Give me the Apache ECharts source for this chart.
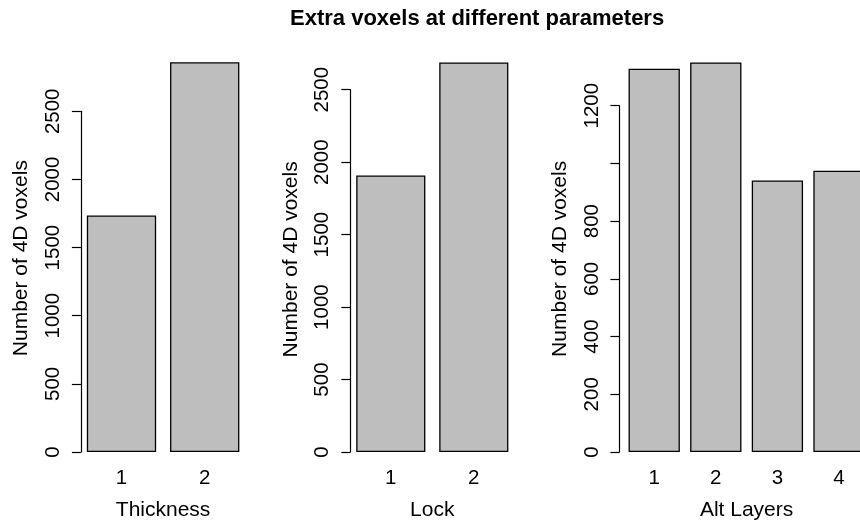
<!DOCTYPE html>
<html><head><meta charset="utf-8">
<script src="https://cdn.jsdelivr.net/npm/echarts@6/dist/echarts.min.js"></script>
<style>html,body{margin:0;padding:0;background:#fff}#c{width:860px;height:521px}</style>
</head><body><div id="c"></div>
<script>
const chartTitle = 'Extra voxels at different parameters';
const yAxisTitle = 'Number of 4D voxels';
const panelNames = ['Thickness', 'Lock', 'Alt Layers'];

const thicknessCats = ['1', '2'];
const thicknessValues = [1735, 2860];
const thicknessTicks = ['0', '500', '1000', '1500', '2000', '2500'];

const lockCats = ['1', '2'];
const lockValues = [1908, 2688];
const lockTicks = ['0', '500', '1000', '1500', '2000', '2500'];

const altLayersCats = ['1', '2', '3', '4'];
const altLayersValues = [1328, 1350, 941, 975];
const altLayersTicks = ['0', '200', '400', '600', '800', '', '1200'];

const FONT = "'Liberation Sans', Arial, Helvetica, sans-serif";

const panels = [
  { cats: thicknessCats, values: thicknessValues, ticks: thicknessTicks, step: 500,
    left: 79.9, width: 166.4, top: 111.3, offset: -1, namePad: 47 },
  { cats: lockCats, values: lockValues, ticks: lockTicks, step: 500,
    left: 349.3, width: 166, top: 89.7, offset: -1, namePad: 23 },
  { cats: altLayersCats, values: altLayersValues, ticks: altLayersTicks, step: 200,
    left: 623.4, width: 246.4, top: 105.7, offset: 4, namePad: 40 }
];

const grids = [], xAxes = [], yAxes = [], series = [];
panels.forEach((p, i) => {
  grids.push({ left: p.left, width: p.width, top: p.top, bottom: 69,
    containLabel: false, outerBoundsMode: 'none' });
  xAxes.push({
    type: 'category', gridIndex: i, data: p.cats,
    name: panelNames[i], nameLocation: 'middle', nameGap: 48,
    nameTextStyle: { fontSize: 21, color: '#000', fontFamily: FONT },
    axisLine: { show: false }, axisTick: { show: false },
    axisLabel: { fontSize: 20.5, color: '#000', fontFamily: FONT, margin: 16 },
    splitLine: { show: false }
  });
  yAxes.push({
    type: 'value', gridIndex: i, min: 0, max: p.step * (p.ticks.length - 1), interval: p.step,
    offset: p.offset,
    name: yAxisTitle, nameLocation: 'middle', nameGap: 49,
    nameTextStyle: { fontSize: 21, color: '#000', fontFamily: FONT, padding: [0, 0, 0, p.namePad] },
    axisLine: { show: true, lineStyle: { color: '#000', width: 1.2 } },
    axisTick: { show: true, length: 9, lineStyle: { color: '#000', width: 1.2 } },
    axisLabel: { rotate: 90, fontSize: 20.5, color: '#000', fontFamily: FONT, margin: 17,
      formatter: (v) => { const k = Math.round(v / p.step); return p.ticks[k] !== undefined ? p.ticks[k] : ''; } },
    splitLine: { show: false }
  });
  series.push({
    type: 'bar', xAxisIndex: i, yAxisIndex: i, data: p.values,
    clip: false, barCategoryGap: '16.7%',
    itemStyle: { color: '#bebebe', borderColor: '#000', borderWidth: 1.3 },
    emphasis: { disabled: true }, silent: true
  });
});

const chart = echarts.init(document.getElementById('c'), null, { renderer: 'canvas' });
chart.setOption({
  animation: false,
  backgroundColor: '#fff',
  title: { text: chartTitle, left: 290, top: 8, padding: 0,
    textStyle: { fontSize: 22, fontWeight: 'bold', color: '#000', fontFamily: FONT } },
  grid: grids, xAxis: xAxes, yAxis: yAxes, series: series
});
</script>
</body></html>
